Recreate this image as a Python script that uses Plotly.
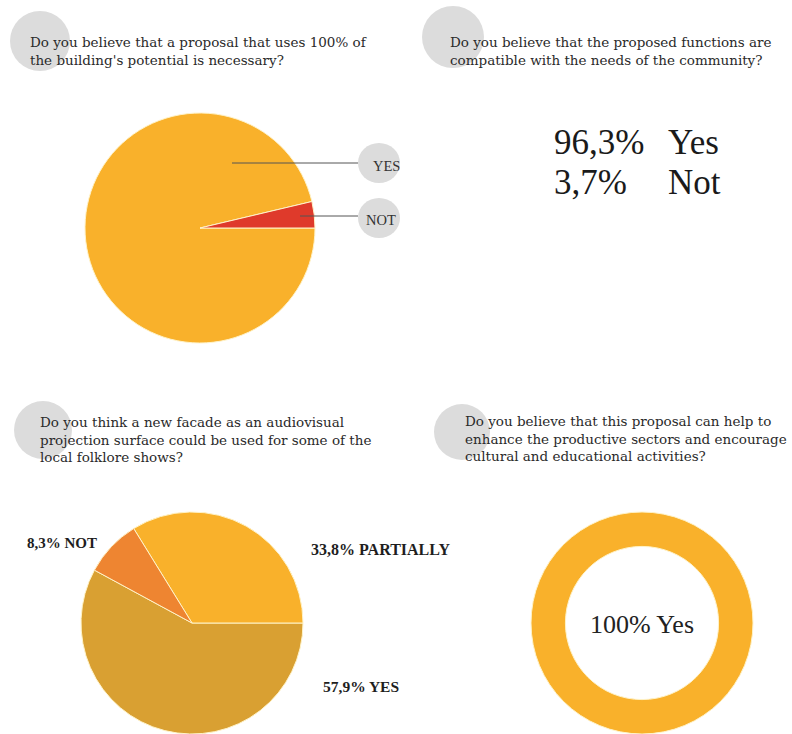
import plotly.graph_objects as go

W, H = 792, 734

# ---- data ----
q1_labels = ["YES", "NOT"]
q1_values = [96.3, 3.7]

q2_labels = ["Yes", "Not"]
q2_values = [96.3, 3.7]

q3_labels = ["YES", "PARTIALLY", "NOT"]
q3_values = [57.9, 33.8, 8.3]

q4_labels = ["Yes"]
q4_values = [100]

questions = [
    "Do you believe that a proposal that uses 100% of<br>the building's potential is necessary?",
    "Do you believe that the proposed functions are<br>compatible with the needs of the community?",
    "Do you think a new facade as an audiovisual<br>projection surface could be used for some of the<br>local folklore shows?",
    "Do you believe that this proposal can help to<br>enhance the productive sectors and encourage<br>cultural and educational activities?",
]

SERIF = "DejaVu Serif, serif"
SERIF2 = "Liberation Serif, Times New Roman, serif"


def px(x):
    return x / W


def py(y):
    return 1 - y / H


def fmt(v):
    return f"{v:.1f}".replace(".", ",") + "%"


fig = go.Figure()

# Pie 1
fig.add_trace(go.Pie(
    labels=q1_labels, values=q1_values, sort=False, direction="counterclockwise",
    rotation=90, textinfo="none", hoverinfo="label+percent",
    marker=dict(colors=["#F9B12B", "#DF3A2B"], line=dict(color="#FFF3C8", width=1)),
    domain=dict(x=[px(85), px(315)], y=[py(343), py(113)]),
    showlegend=False,
))

# Pie 3
fig.add_trace(go.Pie(
    labels=q3_labels, values=q3_values, sort=False, direction="counterclockwise",
    rotation=90, textinfo="none", hoverinfo="label+percent",
    marker=dict(colors=["#D9A032", "#F9B12B", "#EE8531"], line=dict(color="#FFF3C8", width=1)),
    domain=dict(x=[px(81), px(303)], y=[0, py(512)]),
    showlegend=False,
))

# Donut 4
fig.add_trace(go.Pie(
    labels=q4_labels, values=q4_values, sort=False, hole=0.69,
    textinfo="none", hoverinfo="label+percent",
    marker=dict(colors=["#F9B12B"], line=dict(color="#FFF3C8", width=1)),
    domain=dict(x=[px(531), px(753)], y=[0, py(512)]),
    showlegend=False,
))

shapes = []
for cx, cy, r in [(40, 41, 30), (453, 37, 31), (43, 430, 29), (462, 432, 28)]:
    shapes.append(dict(type="circle", xref="paper", yref="paper",
                       x0=px(cx - r), x1=px(cx + r), y0=py(cy + r), y1=py(cy - r),
                       fillcolor="#DCDCDC", line=dict(width=0), layer="below"))
for cx, cy in [(379, 163), (379, 218)]:
    shapes.append(dict(type="circle", xref="paper", yref="paper",
                       x0=px(cx - 21), x1=px(cx + 21), y0=py(cy + 20), y1=py(cy - 20),
                       fillcolor="#DCDCDC", line=dict(width=0), layer="below"))
shapes.append(dict(type="line", xref="paper", yref="paper", x0=px(232), x1=px(358),
                   y0=py(163), y1=py(163), line=dict(color="#555555", width=1), layer="above"))
shapes.append(dict(type="line", xref="paper", yref="paper", x0=px(300), x1=px(358),
                   y0=py(216), y1=py(216), line=dict(color="#555555", width=1), layer="above"))

ann = []


def add(text, x, y, size, family=SERIF2, color="#1E1E1E", xa="left", ya="middle"):
    ann.append(dict(text=text, x=px(x), y=py(y), xref="paper", yref="paper",
                    xanchor=xa, yanchor=ya, align="left", showarrow=False,
                    font=dict(family=family, size=size, color=color)))


qpos = [(28, 32), (448, 32), (38, 412), (463, 411)]
for (x, y), q in zip(qpos, questions):
    add(q, x, y, 13.5, family=SERIF, color="#2A2A2A", ya="top")

# pie 1 callouts
add(q1_labels[0], 386, 166, 14.5, color="#333333", xa="center")
add(q1_labels[1], 381, 220, 14.5, color="#333333", xa="center")

# q2 big text
add(fmt(q2_values[0]), 552, 143, 35, color="#1A1A1A")
add(q2_labels[0], 666, 143, 35, color="#1A1A1A")
add(fmt(q2_values[1]), 552, 183, 35, color="#1A1A1A")
add(q2_labels[1], 666, 183, 35, color="#1A1A1A")

# pie 3 labels
add(f"<b>{fmt(q3_values[2])} {q3_labels[2]}</b>", 25, 543, 15)
add(f"<b>{fmt(q3_values[1])} {q3_labels[1]}</b>", 309, 549, 16)
add(f"<b>{fmt(q3_values[0])} {q3_labels[0]}</b>", 321, 686, 15.5)

# donut centre label
add(f"{q4_values[0]}% {q4_labels[0]}", 642, 624, 26, color="#222222", xa="center")

fig.update_layout(
    width=W, height=H, margin=dict(l=0, r=0, t=0, b=0),
    paper_bgcolor="white", plot_bgcolor="white",
    shapes=shapes, annotations=ann,
)

fig.write_html("out.html")
